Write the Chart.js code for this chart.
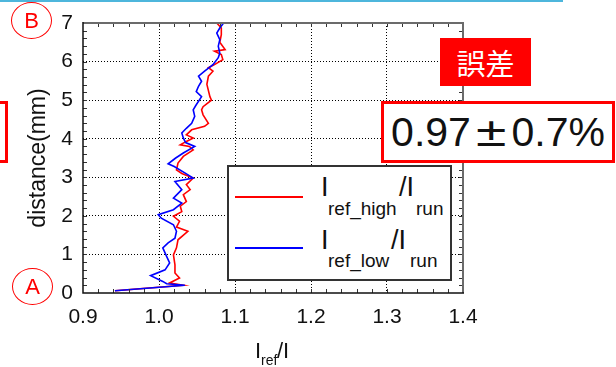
<!DOCTYPE html>
<html>
<head>
<meta charset="utf-8">
<script src="https://cdn.jsdelivr.net/npm/chart.js@4.4.0/dist/chart.umd.min.js"></script>
<style>
  body { margin: 0; background: #fff; }
  #wrap { position: relative; width: 616px; height: 367px; overflow: hidden; font-family: 'Liberation Sans', Arial, sans-serif; }
  #wrap canvas { position: absolute; left: 0; top: 0; }
  .t { position: absolute; line-height: 1; white-space: nowrap; color: #111; }
  .big { font-size: 27px; }
  .sub { font-size: 19px; }
  .stripe { position: absolute; left: 0; top: 0; width: 563px; height: 2px; background: #4db6dc; }
  .circ { position: absolute; width: 41px; height: 37px; box-sizing: border-box; border: 1.5px solid #f00; border-radius: 50%;
          color: #f00; font-size: 22px; display: flex; align-items: center; justify-content: center; }
  .legend { position: absolute; left: 227px; top: 165px; width: 225px; height: 116px; box-sizing: border-box; border: 2px solid #333; background: #fff; }
  .sample { position: absolute; left: 235px; width: 68px; height: 1.5px; }
  .tag { position: absolute; left: 440px; top: 38px; width: 91px; height: 48px; background: #f00; color: #fff;
         font-family: 'Noto Sans CJK JP', sans-serif; font-size: 29px; display: flex; align-items: center; justify-content: center; }
  .valbox { position: absolute; left: 381px; top: 101px; width: 234px; height: 62px; box-sizing: border-box; border: 3px solid #f00; background: #fff;
            font-size: 41px; color: #111; display: flex; align-items: center; justify-content: center; }
  .pm { display: inline-block; transform: scaleX(1.35); margin: 0 9px; }
  .leftbox { position: absolute; left: -40px; top: 101px; width: 48px; height: 62px; box-sizing: border-box; border: 3px solid #f00; }
</style>
</head>
<body>
<div id="wrap">
  <canvas id="plot" width="616" height="367"></canvas>
  <div class="stripe"></div>
  <div class="leftbox"></div>
  <div class="circ" style="left:11px; top:2px;">B</div>
  <div class="circ" style="left:12px; top:268px;">A</div>

  <div class="legend"></div>
  <div class="sample" style="top:196px; background:#f00;"></div>
  <div class="sample" style="top:247px; background:#00f;"></div>
  <div class="t big" style="left:321px; top:174px;">I</div>
  <div class="t sub" style="left:328px; top:199px;">ref_high</div>
  <div class="t big" style="left:399px; top:174px;">/I</div>
  <div class="t sub" style="left:416px; top:199px;">run</div>
  <div class="t big" style="left:321px; top:227px;">I</div>
  <div class="t sub" style="left:328px; top:251px;">ref_low</div>
  <div class="t big" style="left:391px; top:227px;">/I</div>
  <div class="t sub" style="left:410px; top:251px;">run</div>

  <div class="t" style="left:255px; top:340px; font-size:22px;">I</div>
  <div class="t" style="left:261px; top:353px; font-size:14px;">ref</div>
  <div class="t" style="left:277px; top:340px; font-size:22px;">/I</div>

  <div class="tag">誤差</div>
  <div class="valbox"><span>0.97<span class="pm">±</span>0.7%</span></div>
</div>
<script>
// distance (mm) vs Iref/I
const highDistance = [0.06,0.20,0.26,0.39,0.52,0.73,0.99,1.17,1.38,1.60,1.71,1.86,1.99,2.11,2.25,2.37,2.55,2.68,2.81,2.98,3.10,3.19,3.37,3.54,3.71,3.80,3.84,3.93,4.02,4.10,4.23,4.32,4.40,4.62,4.75,4.83,5.00,5.09,5.41,5.62,5.75,5.84,5.92,6.05,6.18,6.27,6.31,6.50,6.70,6.87,7.00];
const highRatio = [0.942,1.032,1.014,1.027,1.021,1.021,1.019,1.023,1.025,1.038,1.023,1.027,1.019,1.030,1.028,1.036,1.032,1.041,1.036,1.045,1.030,1.023,1.025,1.032,1.045,1.040,1.028,1.036,1.045,1.036,1.043,1.060,1.065,1.058,1.056,1.058,1.069,1.067,1.063,1.065,1.071,1.065,1.073,1.084,1.082,1.073,1.087,1.080,1.082,1.082,1.076];

const lowDistance = [0.06,0.20,0.24,0.30,0.45,0.60,0.78,0.95,1.17,1.30,1.42,1.60,1.77,1.94,2.03,2.16,2.33,2.46,2.68,2.89,2.98,3.10,3.28,3.35,3.50,3.63,3.80,3.90,4.02,4.15,4.27,4.40,4.58,4.75,4.88,5.09,5.22,5.36,5.49,5.62,5.75,5.92,6.10,6.22,6.40,6.57,6.74,6.87,7.00];
const lowRatio = [0.942,1.034,1.010,1.005,0.989,1.008,1.014,1.010,1.005,1.012,1.021,1.023,1.019,1.003,0.999,1.019,1.030,1.019,1.030,1.021,1.045,1.035,1.020,1.012,1.022,1.032,1.047,1.035,1.032,1.030,1.036,1.043,1.047,1.045,1.049,1.056,1.049,1.052,1.056,1.052,1.060,1.071,1.078,1.080,1.078,1.080,1.076,1.080,1.085];

const X_MIN = 0.9, X_MAX = 1.4, X_STEP = 0.1, X_MINOR = 0.02;
const Y_MIN = 0, Y_MAX = 7, Y_STEP = 1, Y_MINOR = 0.2;

const toPoints = (ds, rs) => ds.map((d, i) => ({ x: rs[i], y: d }));

// inward minor ticks + frame (dark left/bottom, grey top/right)
const frame = {
  id: 'frame',
  afterDatasetsDraw(chart) {
    const { ctx, chartArea: a, scales: { x, y } } = chart;
    ctx.save();
    ctx.strokeStyle = '#333';
    ctx.lineWidth = 1;
    ctx.beginPath();
    const nx = Math.round((X_MAX - X_MIN) / X_MINOR);
    for (let i = 1; i < nx; i++) {
      const px = Math.round(x.getPixelForValue(X_MIN + i * X_MINOR)) + 0.5;
      ctx.moveTo(px, a.bottom); ctx.lineTo(px, a.bottom - 4);
      ctx.moveTo(px, a.top); ctx.lineTo(px, a.top + 4);
    }
    const ny = Math.round((Y_MAX - Y_MIN) / Y_MINOR);
    for (let i = 1; i < ny; i++) {
      const py = Math.round(y.getPixelForValue(Y_MIN + i * Y_MINOR)) + 0.5;
      ctx.moveTo(a.left, py); ctx.lineTo(a.left + 4, py);
      ctx.moveTo(a.right, py); ctx.lineTo(a.right - 4, py);
    }
    ctx.stroke();

    ctx.lineWidth = 2;
    ctx.strokeStyle = '#6b6b6b';
    ctx.beginPath();
    ctx.moveTo(a.left, a.top); ctx.lineTo(a.right, a.top); ctx.lineTo(a.right, a.bottom);
    ctx.stroke();
    ctx.lineWidth = 1.5;
    ctx.strokeStyle = '#111';
    ctx.beginPath();
    ctx.moveTo(a.left, a.top - 1); ctx.lineTo(a.left, a.bottom); ctx.lineTo(a.right + 1, a.bottom);
    ctx.stroke();
    ctx.restore();
  }
};

const edgeClear = (min, max) => c =>
  (c.tick && (Math.abs(c.tick.value - min) < 1e-6 || Math.abs(c.tick.value - max) < 1e-6)) ? 'rgba(0,0,0,0)' : '#000';

Chart.defaults.font.family = "'Liberation Sans', Arial, sans-serif";
Chart.defaults.color = '#111';

new Chart(document.getElementById('plot'), {
  type: 'scatter',
  data: {
    datasets: [
      {
        label: 'Iref_high/Irun',
        data: toPoints(highDistance, highRatio),
        showLine: true,
        borderColor: '#ff0000',
        borderWidth: 1.6,
        pointRadius: 0,
        order: 2
      },
      {
        label: 'Iref_low/Irun',
        data: toPoints(lowDistance, lowRatio),
        showLine: true,
        borderColor: '#0000ff',
        borderWidth: 1.6,
        pointRadius: 0,
        order: 1
      }
    ]
  },
  options: {
    responsive: false,
    animation: false,
    layout: { padding: { left: 0, top: 23, right: 153, bottom: 0 } },
    plugins: { legend: { display: false }, tooltip: { enabled: false } },
    scales: {
      x: {
        type: 'linear',
        min: X_MIN, max: X_MAX,
        afterFit: s => { s.height = 74; },
        ticks: { stepSize: X_STEP, padding: 12, font: { size: 21 }, callback: v => v.toFixed(1) },
        grid: { drawTicks: false, color: edgeClear(X_MIN, X_MAX), lineWidth: 1 },
        border: { display: false, dash: [1, 2] }
      },
      y: {
        type: 'linear',
        min: Y_MIN, max: Y_MAX,
        afterFit: s => { s.width = 83; },
        ticks: { stepSize: Y_STEP, padding: 10, font: { size: 21 } },
        grid: { drawTicks: false, color: edgeClear(Y_MIN, Y_MAX), lineWidth: 1 },
        border: { display: false, dash: [1, 2] },
        title: { display: true, text: 'distance(mm)', font: { size: 23, lineHeight: 1 }, padding: { top: 27, bottom: 0 }, color: '#111' }
      }
    }
  },
  plugins: [frame]
});
</script>
</body>
</html>
